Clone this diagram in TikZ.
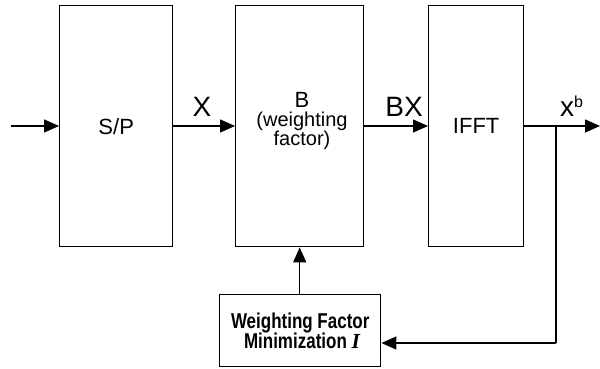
\documentclass[tikz,border=0pt]{standalone}
\usepackage{fontspec}
\setmainfont{Liberation Sans}
\newfontfamily\narrowbold[FakeStretch=0.79]{Liberation Sans Bold}
\newfontfamily\serifbi{Liberation Serif Bold Italic}
\usetikzlibrary{arrows.meta}
\begin{document}
\begin{tikzpicture}[x=1pt,y=-1pt,
  blk/.style={draw,line width=1.4pt,inner sep=0pt,anchor=north west},
  lbl/.style={font=\fontsize{28}{30}\selectfont,inner sep=0pt},
  conn/.style={line width=1.4pt,-{Triangle[length=15pt,width=13pt]}},
  wire/.style={line width=1.4pt}]
\useasboundingbox (0,0) rectangle (600,369);
% processing chain
\node[blk,minimum width=113pt,minimum height=241pt,font=\fontsize{22}{24}\selectfont] (sp) at (59,5) {S/P};
\node[blk,minimum width=128pt,minimum height=241pt] (bw) at (235,5) {};
\node[align=center,inner sep=0pt,font=\rmfamily\fontsize{20}{19}\selectfont] (bwtext) at (302,121) {{\fontsize{22}{19}\selectfont B}\\(weighting\\factor)};
\node[blk,minimum width=95pt,minimum height=241pt,font=\fontsize{22}{24}\selectfont] (ifft) at (428,5) {IFFT};
\node[blk,minimum width=161pt,minimum height=72pt,align=center,font=\narrowbold\fontsize{21.5}{20.6}\selectfont] (wfm) at (219,294) {Weighting Factor\\ \,Minimization {\serifbi I}};
% input and output terminals
\coordinate (in) at (11,126);
\coordinate (out) at (600,126);
\coordinate (tap) at (556,126);
\coordinate (tapdown) at (556,343);
% connectors
\draw[conn] (in) -- (sp.west |- in);
\draw[conn] (sp.east |- in) -- (bw.west |- in);
\draw[conn] (bw.east |- in) -- (ifft.west |- in);
\draw[conn] (ifft.east |- in) -- (out);
\draw[wire] (tap) -- (tapdown);
\draw[conn] (tapdown) -- (wfm.east |- tapdown);
\draw[conn] (wfm.north -| bw.south) -- (bw.south);
% signal labels
\node[lbl] (lx) at (202,106.5) {X};
\node[lbl] (lbx) at (404,106.5) {BX};
\node[lbl,anchor=base west] (lxb) at (560,116.7) {x\textsuperscript{\fontsize{16}{16}\selectfont b}};
\end{tikzpicture}
\end{document}
